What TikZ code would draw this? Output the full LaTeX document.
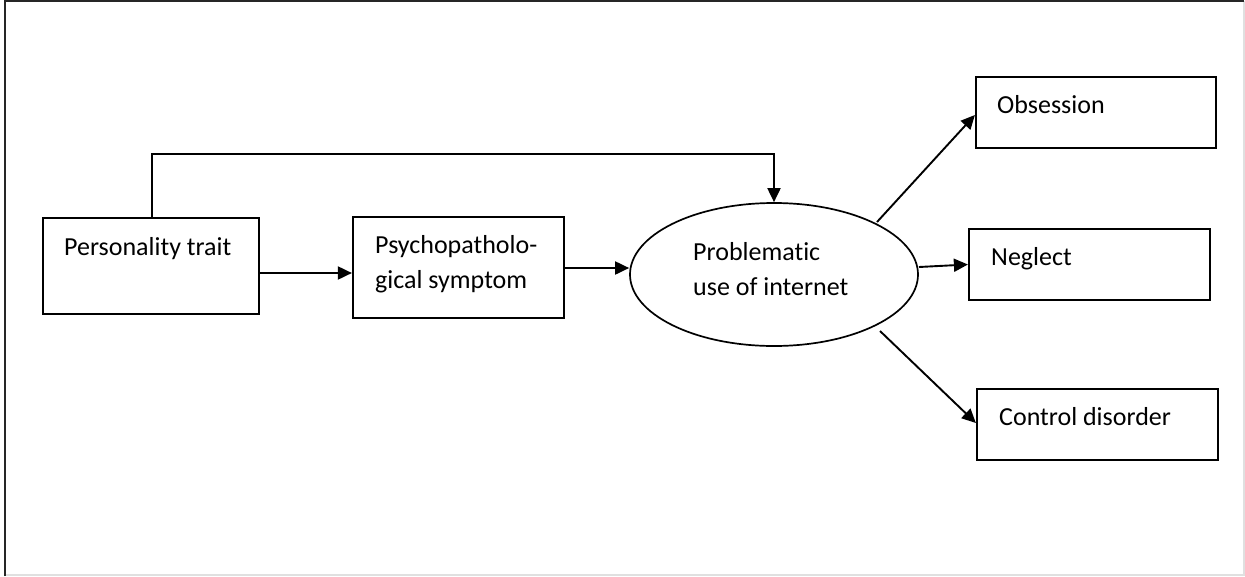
\documentclass[tikz,border=0pt]{standalone}
\usepackage{fontspec}
\setmainfont{Carlito}[Ligatures={NoCommon}]
\usetikzlibrary{arrows.meta,shapes.geometric,calc}
\begin{document}
\begin{tikzpicture}[x=1pt,y=-1pt,
  box/.style={draw=black,line width=2.2pt,rectangle,inner sep=0pt},
  lbl/.style={inner sep=0pt,anchor=base west,font=\fontsize{26}{35}\selectfont},
  arr/.style={draw=black,line width=1.9pt,-{Triangle[length=14pt,width=13pt]}}]
\path[use as bounding box] (0,0) rectangle (1245,576);
\fill[white] (0,0) rectangle (1245,576);
\draw[black!12,line width=1.5pt] (1244,1) -- (1244,575) -- (4,575);
\draw[black!85,line width=2.2pt] (5,576) -- (5,1) -- (1244,1);
% shapes
\node[box,minimum width=216pt,minimum height=96pt] (pt) at (151,266) {};
\node[box,minimum width=211pt,minimum height=101pt] (ps) at (458.5,267.5) {};
\node[draw=black,ellipse,line width=1.7pt,minimum width=288pt,minimum height=143pt,inner sep=0pt] (ell) at (774,274.5) {};
\node[box,minimum width=240pt,minimum height=71pt] (ob) at (1096,112.5) {};
\node[box,minimum width=241pt,minimum height=71pt] (ne) at (1089.5,264.5) {};
\node[box,minimum width=241pt,minimum height=71pt] (co) at (1097.5,424.5) {};
% texts
\node[lbl] (tpt) at (64,255) {Personality trait};
\node[lbl] (tps) at (375,253) {\begin{tabular}[t]{@{}l@{}}Psychopatholo-\\gical symptom\end{tabular}};
\node[lbl] (tel) at (693,260) {\begin{tabular}[t]{@{}l@{}}Problematic\\use of internet\end{tabular}};
\node[lbl] (tob) at (997,113) {Obsession};
\node[lbl] (tne) at (991,265) {Neglect};
\node[lbl] (tco) at (999,425) {Control disorder};
% connectors
\coordinate (tl) at (152,154);
\draw[arr] (pt.north -| tl) -- (tl) -| (ell.north);
\draw[arr] ([yshift=-7pt]pt.east) -- ([yshift=-7pt]pt.east -| ps.west);
\draw[arr] ([yshift=-0.5pt]ps.east) -- ([yshift=-0.5pt]ps.east -| ell.west);
\draw[arr] ($(ell.center)+(103,-52.5)$) -- ([yshift=-2.5pt]ob.west);
\draw[arr] ($(ell.center)+(145,-7.5)$) -- (ne.west);
\draw[arr] ($(ell.center)+(106,56.5)$) -- ([yshift=1.5pt]co.west);
\end{tikzpicture}
\end{document}
